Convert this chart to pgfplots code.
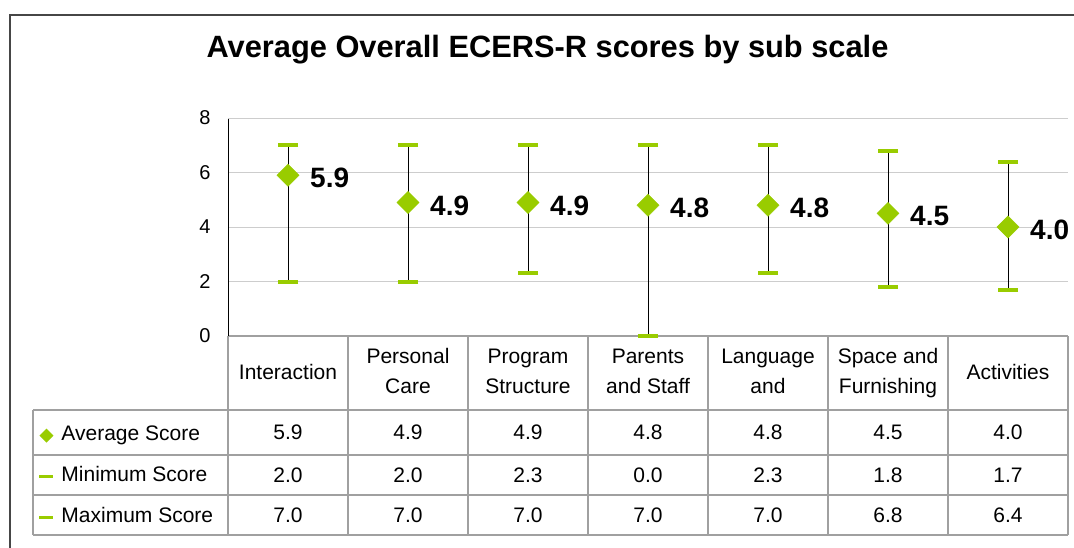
\documentclass[border=0pt]{standalone}
\usepackage{pgfplots}
\pgfplotsset{compat=1.18}
\usepackage{pgfplotstable}
\usepackage{fontspec}
\setmainfont{Liberation Sans}
\definecolor{grn}{RGB}{153,204,0}
\definecolor{tblgray}{RGB}{160,160,160}
\definecolor{gridgray}{RGB}{205,205,205}
\definecolor{framegray}{RGB}{70,70,70}
\newcommand{\cl}[1]{\begin{tabular}{@{}c@{}}#1\end{tabular}}

\pgfplotstableread{
x avg min max
0 5.9 2.0 7.0
1 4.9 2.0 7.0
2 4.9 2.3 7.0
3 4.8 0.0 7.0
4 4.8 2.3 7.0
5 4.5 1.8 6.8
6 4.0 1.7 6.4
}\scores

\begin{document}
\begin{tikzpicture}
\useasboundingbox[fill=white] (0,0) rectangle (1074pt,-548pt);
\draw[line width=1.5pt, framegray] (10pt,-560pt) -- (10pt,-15pt) -- (1090pt,-15pt);
\begin{scope}[tblgray, line width=1.2pt]
\draw (228pt,-336pt) -- (1068pt,-336pt);
\foreach \xx in {228,348,...,1068} \draw (\xx pt,-336pt) -- (\xx pt,-535pt);
\foreach \yy in {410,455,495,535} \draw (33pt,-\yy pt) -- (1068pt,-\yy pt);
\draw (33pt,-410pt) -- (33pt,-535pt);
\end{scope}
\begin{axis}[
  at={(228pt,-336pt)}, anchor=south west,
  scale only axis, width=840pt, height=218pt,
  xmin=-0.5, xmax=6.5, ymin=0, ymax=8,
  clip=false,
  axis lines=left, axis line style={-},
  x axis line style={draw=tblgray, line width=1.2pt},
  y axis line style={draw=black, line width=0.9pt},
  major tick length=0pt,
  ytick={0,2,4,6},
  ymajorgrids,
  major grid style={gridgray, line width=1pt},
  extra y ticks={8},
  /pgf/number format/assume math mode=true,
  yticklabel style={font=\fontsize{20}{24}\selectfont, xshift=-14pt},
  xtick={0,...,6},
  xticklabels={Interaction,{\cl{Personal\\Care}},{\cl{Program\\Structure}},{\cl{Parents\\and Staff}},{\cl{Language\\and}},{\cl{Space and\\Furnishing}},Activities},
  xticklabel style={font=\fontsize{21}{30}\selectfont, anchor=center, yshift=-36pt},
  title={Average Overall ECERS-R scores by sub scale},
  title style={at={(0.3804,1.25)}, anchor=base, font=\fontsize{30.8}{36}\selectfont\bfseries},
  legend cell align=left,
  legend style={at={(-0.2262,-0.4106)}, anchor=north west, draw=none, fill=none,
    inner sep=0pt, outer sep=0pt, row sep=21pt,
    font=\fontsize{21}{25}\selectfont,
    nodes={inner sep=0pt, text height=15pt, text depth=5pt}},
]
% vertical range lines (min to max)
\addplot[forget plot, draw=none, mark=none,
  error bars/.cd, y dir=both, y explicit,
  error bar style={draw=black, line width=0.8pt},
  error mark=none]
  table[x=x, y=avg, y error plus expr=\thisrow{max}-\thisrow{avg}, y error minus expr=\thisrow{avg}-\thisrow{min}] {\scores};
% minimum and maximum caps
\addplot[forget plot, only marks, mark=-, mark size=10pt,
  mark options={draw=grn, line width=4pt}]
  table[x=x, y=min] {\scores};
\addplot[forget plot, only marks, mark=-, mark size=10pt,
  mark options={draw=grn, line width=4pt}]
  table[x=x, y=max] {\scores};
% average diamonds with labels
\addplot[forget plot, only marks, mark=square*, mark size=7.8pt,
  mark options={rotate=45, fill=grn, draw=grn},
  point meta=explicit,
  nodes near coords={\pgfmathprintnumber[fixed,fixed zerofill,precision=1]{\pgfplotspointmeta}},
  every node near coord/.append style={anchor=west, xshift=22pt, yshift=-3pt, black, font=\fontsize{28}{32}\selectfont\bfseries, inner sep=0pt}]
  table[x=x, y=avg, meta=avg] {\scores};
% data table values
\addplot[forget plot, draw=none, mark=none, point meta=explicit,
  nodes near coords={\pgfmathprintnumber[fixed,fixed zerofill,precision=1]{\pgfplotspointmeta}},
  every node near coord/.append style={anchor=center, black, font=\fontsize{21}{25}\selectfont, inner sep=0pt}]
  table[x=x, y expr=-3.541, meta=avg] {\scores};
\addplot[forget plot, draw=none, mark=none, point meta=explicit,
  nodes near coords={\pgfmathprintnumber[fixed,fixed zerofill,precision=1]{\pgfplotspointmeta}},
  every node near coord/.append style={anchor=center, black, font=\fontsize{21}{25}\selectfont, inner sep=0pt}]
  table[x=x, y expr=-5.108, meta=min] {\scores};
\addplot[forget plot, draw=none, mark=none, point meta=explicit,
  nodes near coords={\pgfmathprintnumber[fixed,fixed zerofill,precision=1]{\pgfplotspointmeta}},
  every node near coord/.append style={anchor=center, black, font=\fontsize{21}{25}\selectfont, inner sep=0pt}]
  table[x=x, y expr=-6.569, meta=max] {\scores};
% legend (row labels of the data table)
\addlegendimage{legend image code/.code={\path[draw=none,fill=none] (0pt,-7pt) rectangle (22pt,7pt); \fill[grn, draw=none] (7pt,7pt) -- (14pt,0pt) -- (7pt,-7pt) -- (0pt,0pt) -- cycle;}}
\addlegendentry{Average Score}
\addlegendimage{legend image code/.code={\path[draw=none,fill=none] (0pt,-7pt) rectangle (22pt,7pt); \draw[grn, line width=3pt] (0pt,0pt) -- (14pt,0pt);}}
\addlegendentry{Minimum Score}
\addlegendimage{legend image code/.code={\path[draw=none,fill=none] (0pt,-7pt) rectangle (22pt,7pt); \draw[grn, line width=3pt] (0pt,0pt) -- (14pt,0pt);}}
\addlegendentry{Maximum Score}
\end{axis}
\end{tikzpicture}
\end{document}
